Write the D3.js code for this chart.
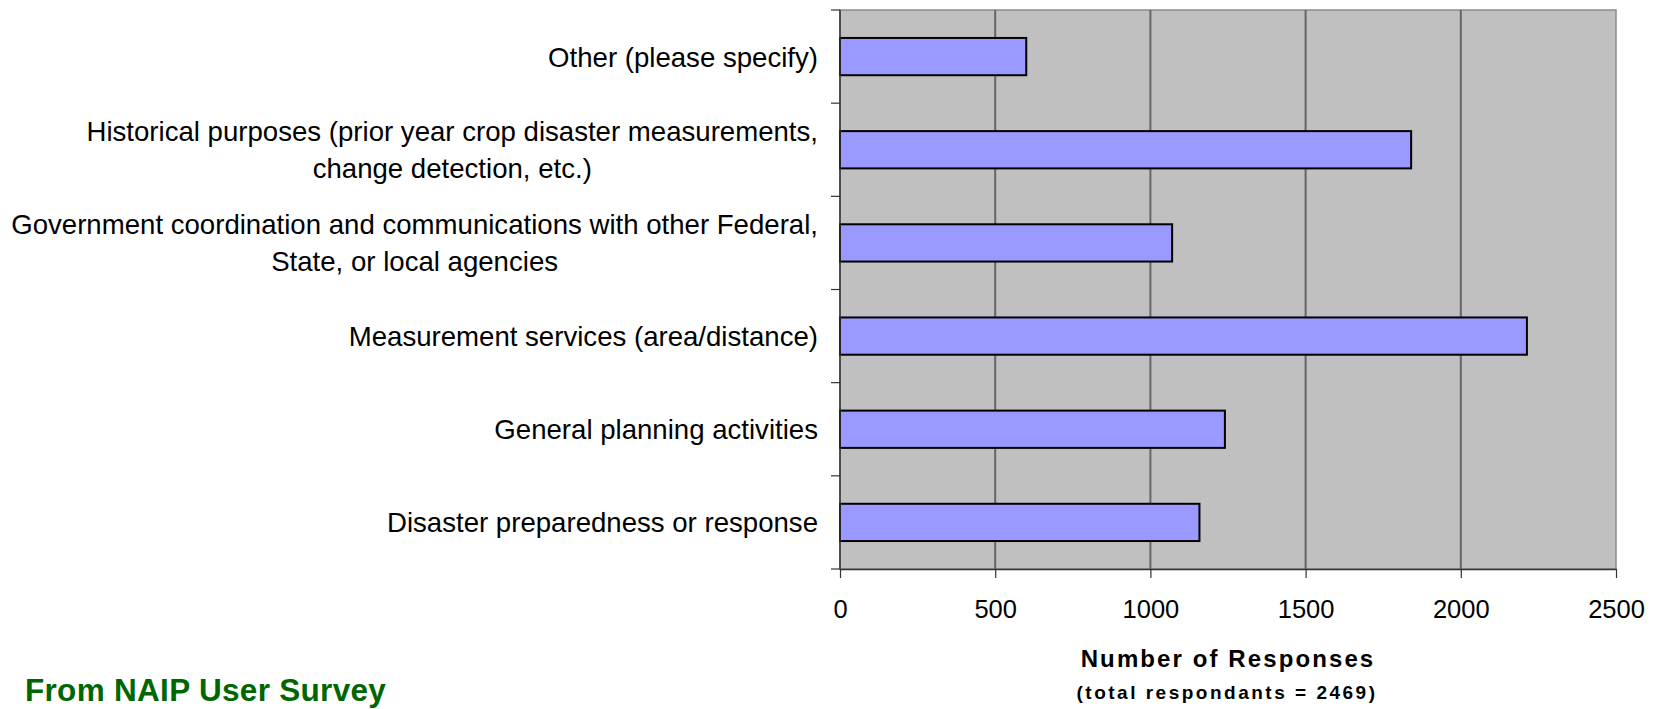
<!DOCTYPE html>
<html>
<head>
<meta charset="utf-8">
<script src="https://cdn.jsdelivr.net/npm/d3@7"></script>
<style>
  html, body { margin: 0; padding: 0; background: #fff; }
  svg { display: block; font-family: "Liberation Sans", Arial, sans-serif; }
</style>
</head>
<body>
<svg id="chart" width="1660" height="709"></svg>
<script>
// Survey responses: uses of NAIP imagery (top to bottom)
const categories = [
  ["Other (please specify)"],
  ["Historical purposes (prior year crop disaster measurements,", "change detection, etc.)"],
  ["Government coordination and communications with other Federal,", "State, or local agencies"],
  ["Measurement services (area/distance)"],
  ["General planning activities"],
  ["Disaster preparedness or response"]
];
const responses = [600, 1840, 1070, 2213, 1240, 1158];
const xTicks = [0, 500, 1000, 1500, 2000, 2500];
const axisTitle = "Number of Responses";
const axisSubtitle = "(total respondants = 2469)";
const sourceNote = "From NAIP User Survey";

const svg = d3.select("#chart");
const plot = { left: 840, right: 1616, top: 10, bottom: 569 };

const x = d3.scaleLinear().domain([0, 2500]).range([plot.left, plot.right]);
const y = d3.scaleBand()
  .domain(d3.range(categories.length))
  .range([plot.top, plot.bottom])
  .paddingInner(0.6)
  .paddingOuter(0.3);

// plot background
svg.append("rect")
  .attr("x", plot.left).attr("y", plot.top)
  .attr("width", plot.right - plot.left).attr("height", plot.bottom - plot.top)
  .attr("fill", "#c0c0c0")
  .attr("stroke", "#8c8c8c").attr("stroke-width", 1.5);

// vertical gridlines
svg.append("g").selectAll("line")
  .data(xTicks.slice(1, -1))
  .join("line")
  .attr("x1", d => x(d)).attr("x2", d => x(d))
  .attr("y1", plot.top).attr("y2", plot.bottom)
  .attr("stroke", "#666").attr("stroke-width", 2);

// bars
svg.append("g").selectAll("rect")
  .data(responses)
  .join("rect")
  .attr("x", x(0))
  .attr("y", (d, i) => y(i))
  .attr("width", d => x(d) - x(0))
  .attr("height", y.bandwidth())
  .attr("fill", "#9999ff")
  .attr("stroke", "#000").attr("stroke-width", 2);

// x axis
const xAxis = svg.append("g")
  .attr("transform", `translate(0,${plot.bottom})`)
  .call(d3.axisBottom(x).tickValues(xTicks).tickFormat(d3.format("d"))
    .tickSize(9).tickPadding(22).tickSizeOuter(0));
xAxis.select(".domain").attr("stroke", "#333").attr("stroke-width", 1.5);
xAxis.selectAll(".tick line").attr("stroke", "#333").attr("stroke-width", 1.2);
xAxis.selectAll(".tick text")
  .attr("fill", "#000")
  .style("font-size", "25.5px")
  .style("font-family", "'Liberation Sans', Arial, sans-serif");

// y axis: tick marks sit at category boundaries
const step = (plot.bottom - plot.top) / categories.length;
const bounds = d3.range(categories.length + 1).map(i => plot.top + i * step);
const yAxis = svg.append("g");
yAxis.append("line")
  .attr("x1", plot.left).attr("x2", plot.left)
  .attr("y1", plot.top).attr("y2", plot.bottom)
  .attr("stroke", "#333").attr("stroke-width", 1.5);
yAxis.selectAll("line.tick")
  .data(bounds)
  .join("line")
  .attr("class", "tick")
  .attr("x1", plot.left - 9).attr("x2", plot.left)
  .attr("y1", d => d).attr("y2", d => d)
  .attr("stroke", "#333").attr("stroke-width", 1.2);

// category labels (wrapped lines centred on the widest line, right-aligned block)
const labelRight = 818;
const lineGap = 37;
categories.forEach((lines, i) => {
  const cy = y(i) + y.bandwidth() / 2;
  const g = svg.append("g");
  const texts = lines.map((ln, j) => g.append("text")
    .attr("y", cy + (j - (lines.length - 1) / 2) * lineGap)
    .attr("dy", "0.36em")
    .style("font-size", "27.6px")
    .attr("fill", "#000")
    .text(ln));
  const widest = d3.max(texts, t => t.node().getComputedTextLength());
  texts.forEach(t => t.attr("x", labelRight - widest / 2).attr("text-anchor", "middle"));
});

// axis titles
svg.append("text")
  .attr("x", 1228).attr("y", 667)
  .attr("text-anchor", "middle")
  .style("font-size", "24px").style("font-weight", "bold")
  .style("letter-spacing", "2.1px")
  .attr("fill", "#000")
  .text(axisTitle);
svg.append("text")
  .attr("x", 1227).attr("y", 699)
  .attr("text-anchor", "middle")
  .style("font-size", "19px").style("font-weight", "bold")
  .style("letter-spacing", "2.5px")
  .attr("fill", "#000")
  .text(axisSubtitle);

// source note
svg.append("text")
  .attr("x", 25).attr("y", 701)
  .style("font-size", "31.5px").style("font-weight", "bold")
  .style("letter-spacing", "0.3px")
  .attr("fill", "#006600")
  .text(sourceNote);
</script>
</body>
</html>
